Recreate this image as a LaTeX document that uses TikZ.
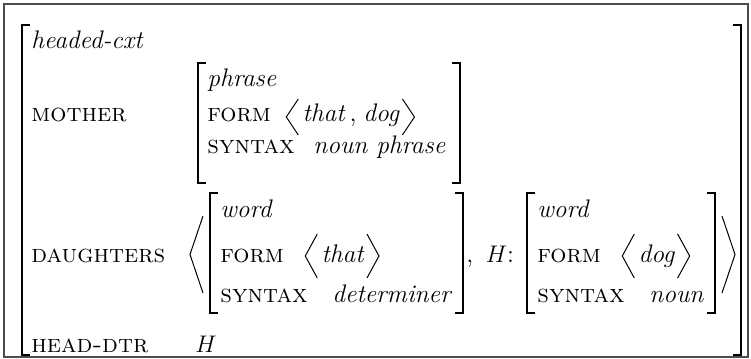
\documentclass[tikz,border=0pt]{standalone}
\usepackage{tikz}
\usetikzlibrary{positioning,calc}
\newcommand\avmsize{\fontsize{12.7}{15}\selectfont}
\tikzset{
  avmtype/.style={anchor=base west,inner sep=0pt,font=\avmsize\itshape},
  avmattr/.style={anchor=base west,inner sep=0pt,font=\avmsize\scshape},
  avmval/.style={anchor=base west,inner sep=0pt,font=\avmsize\itshape},
  avmpunct/.style={anchor=base west,inner sep=0pt,font=\avmsize},
  bracket/.style={line width=0.8pt},
  angle/.style={line width=0.5pt,line join=miter},
  framebox/.style={draw=black!70,line width=0.6pt}
}

\begin{document}
\begin{tikzpicture}[x=0.5pt,y=-0.5pt]
  \useasboundingbox (0,0) rectangle (751,359);
  \draw[framebox] (4,4) rectangle (748,357);
  % outer matrix
  \node[avmtype] (hcxt) at (31,48) {headed-cxt};
  \node[avmattr] (mother) at (31,121) {mother};
  \node[avmattr] (dtrs) at (31,262) {daughters};
  \node[avmattr] (hdtr) at (31,352) {head-dtr};
  \node[avmval] (hval) at (195,352) {$H$};
  % mother value
  \node[avmtype] (mtype) at (207,86) {phrase};
  \node[avmattr] (mform) at (207,121) {form};
  \node[avmval,base right=15.5pt of mform] (mfval) {that\hspace{2.5pt}\textup{,}\hspace{3.5pt}dog};
  \node[avmattr] (msyn) at (207,153) {syntax};
  \node[avmval] (msynv) at (313,153) {noun phrase};
  % first daughter
  \node[avmtype] (dtype) at (220,217) {word};
  \node[avmattr] (dform) at (220,262) {form};
  \node[avmval,base right=18.5pt of dform] (dfval) {that};
  \node[avmattr] (dsyn) at (220,302) {syntax};
  \node[avmval,base right=12pt of dsyn] (dsynv) {determiner};
  \node[avmpunct] (htag) at (466,262) {,\, $H$:};
  % head daughter
  \node[avmtype] (htype) at (537,217) {word};
  \node[avmattr] (hform) at (537,262) {form};
  \node[avmval,base right=18.5pt of hform] (hfval) {dog};
  \node[avmattr] (hsyn) at (537,302) {syntax};
  \node[avmval,base right=12pt of hsyn] (hsynv) {noun};
  % square brackets
  \foreach \bx/\ya/\yb in {22/25/355,198/63/183,210/193/313,527/193/313}
    \draw[bracket] (\bx+8,\ya) -- (\bx,\ya) -- (\bx,\yb) -- (\bx+8,\yb);
  \foreach \bx/\ya/\yb in {741/25/355,460/63/183,463/193/313,715/193/313}
    \draw[bracket] (\bx-8,\ya) -- (\bx,\ya) -- (\bx,\yb) -- (\bx-8,\yb);
  % list of daughters
  \draw[angle] (203,216) -- (190,254.5) -- (203,293);
  \draw[angle] (722,216) -- (735,254.5) -- (722,293);
  % form lists
  \foreach \v/\h/\c in {mfval/18/4,dfval/22/6,hfval/22/6}{
    \draw[angle] ($(\v.base west)+(-4,-\c-\h)$) -- ($(\v.base west)+(-16,-\c)$)
      -- ($(\v.base west)+(-4,-\c+\h)$);
    \draw[angle] ($(\v.base east)+(3,-\c-\h)$) -- ($(\v.base east)+(15,-\c)$)
      -- ($(\v.base east)+(3,-\c+\h)$);
  }
\end{tikzpicture}
\end{document}
